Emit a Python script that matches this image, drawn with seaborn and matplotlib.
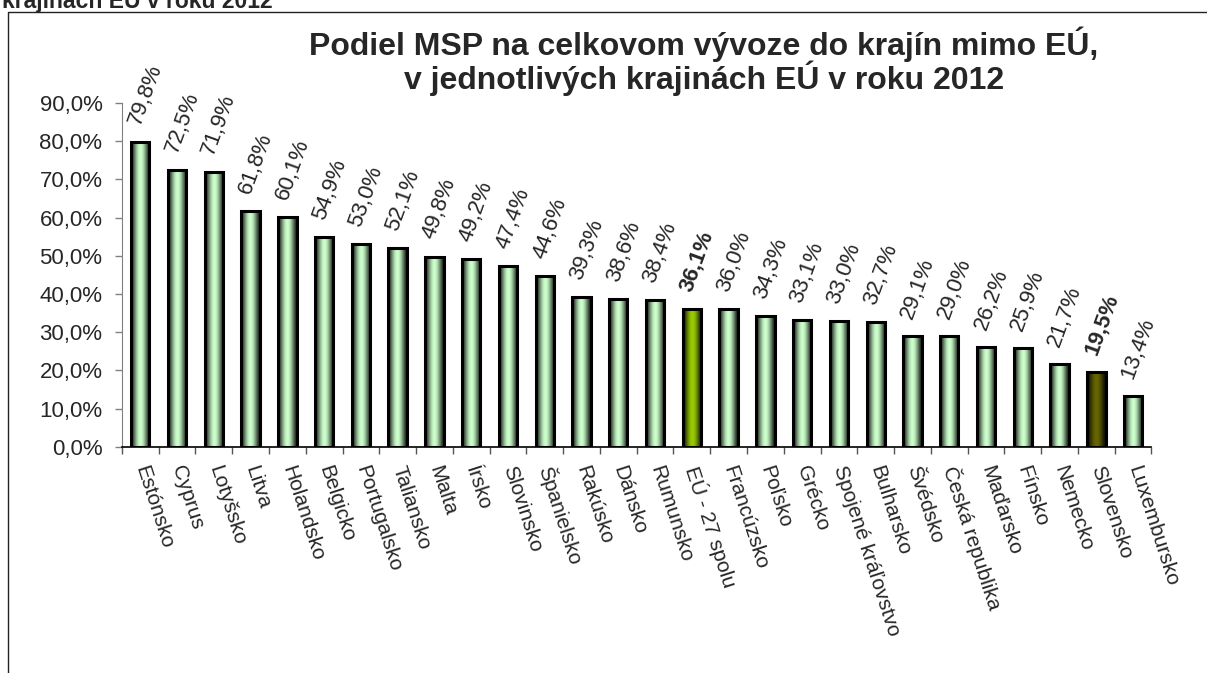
import numpy as np
import pandas as pd
import seaborn as sns
import matplotlib
matplotlib.use('Agg')
import matplotlib.pyplot as plt
from matplotlib.lines import Line2D
from matplotlib.colors import to_rgb
from matplotlib.ticker import FuncFormatter

# data
krajiny = ['Estónsko', 'Cyprus', 'Lotyšsko', 'Litva', 'Holandsko', 'Belgicko',
           'Portugalsko', 'Taliansko', 'Malta', 'Írsko', 'Slovinsko', 'Španielsko',
           'Rakúsko', 'Dánsko', 'Rumunsko', 'EÚ - 27 spolu', 'Francúzsko', 'Poľsko',
           'Grécko', 'Spojené kráľovstvo', 'Bulharsko', 'Švédsko', 'Česká republika',
           'Maďarsko', 'Fínsko', 'Nemecko', 'Slovensko', 'Luxembursko']
podiel = [79.8, 72.5, 71.9, 61.8, 60.1, 54.9, 53.0, 52.1, 49.8, 49.2, 47.4, 44.6,
          39.3, 38.6, 38.4, 36.1, 36.0, 34.3, 33.1, 33.0, 32.7, 29.1, 29.0, 26.2,
          25.9, 21.7, 19.5, 13.4]
zvyraznene = {'EÚ - 27 spolu': '#99cc00', 'Slovensko': '#666600'}
zakladna = '#ccffcc'

sns.set_style('white')
plt.rcParams['font.family'] = ['Liberation Sans', 'DejaVu Sans']

df = pd.DataFrame({'krajina': krajiny, 'podiel': podiel})
farby = {k: zvyraznene.get(k, zakladna) for k in krajiny}

fig = plt.figure(figsize=(12.07, 6.73), dpi=100)
ax = fig.add_axes([0.101, 0.336, 0.853, 0.511])

sns.barplot(data=df, x='krajina', y='podiel', hue='krajina', palette=farby,
            legend=False, width=0.5, edgecolor='black', linewidth=2.2, ax=ax,
            saturation=1)

# gradient vo vnútri stĺpcov (tmavé okraje, svetlý stred)
t = np.linspace(0, 1, 64)
profil = 0.12 + 0.88 * np.sin(np.pi * t) ** 1.5
for patch, k in zip(ax.patches, krajiny):
    c = np.array(to_rgb(farby[k]))
    img = (profil[:, None] * c[None, :])[None, :, :]
    x0, y0 = patch.get_x(), patch.get_y()
    w, h = patch.get_width(), patch.get_height()
    im = ax.imshow(img, extent=[x0, x0 + w, y0, y0 + h], aspect='auto',
                   interpolation='bilinear', zorder=1.5)
    im.set_clip_path(patch)
    patch.set_facecolor('none')
    patch.set_zorder(2)

ax.set_xlim(-0.5, len(krajiny) - 0.5)
ax.set_ylim(0, 90)
ax.set_yticks(np.arange(0, 91, 10))
ax.yaxis.set_major_formatter(FuncFormatter(lambda v, p: f'{v:.1f}%'.replace('.', ',')))
ax.set_xlabel('')
ax.set_ylabel('')

ax.set_xticks(range(len(krajiny)))
ax.set_xticklabels(krajiny, rotation=-72, rotation_mode='anchor', ha='left', va='center')
ax.set_xticks(np.arange(-0.5, len(krajiny), 1), minor=True)
ax.tick_params(axis='x', which='major', length=0, pad=14, labelsize=15)
ax.tick_params(axis='x', which='minor', bottom=True, length=5, width=1, color='#555555')
ax.tick_params(axis='y', left=True, length=5, width=1, color='#808080', pad=9, labelsize=16)

for s in ['top', 'right']:
    ax.spines[s].set_visible(False)
ax.spines['left'].set_color('#808080')
ax.spines['bottom'].set_color('black')
ax.spines['bottom'].set_linewidth(1.2)

for i, (k, v) in enumerate(zip(krajiny, podiel)):
    txt = f'{v:.1f}%'.replace('.', ',')
    ax.annotate(txt, (i, v), xytext=(-4, 13), textcoords='offset points',
                rotation=70, rotation_mode='anchor', ha='left', va='center',
                fontsize=16, fontweight='bold' if k in zvyraznene else 'normal',
                annotation_clip=False)

fig.text(0.583, 1 - 55 / 673, 'Podiel MSP na celkovom vývoze do krajín mimo EÚ,',
         ha='center', va='baseline', fontsize=23, fontweight='bold')
fig.text(0.583, 1 - 89 / 673, 'v jednotlivých krajinách EÚ v roku 2012',
         ha='center', va='baseline', fontsize=23, fontweight='bold')

# orezaný nadpis nad rámikom
fig.text(2 / 1207, 1 - 8 / 673, 'krajinách EÚ v roku 2012', ha='left', va='baseline',
         fontsize=16.5, fontweight='bold')

# rámik grafu
fig.add_artist(Line2D([8 / 1207, 8 / 1207, 1], [0, 1 - 12 / 673, 1 - 12 / 673],
                      color='#222222', lw=1.0, transform=fig.transFigure))

fig.savefig('out.png', dpi=100)
